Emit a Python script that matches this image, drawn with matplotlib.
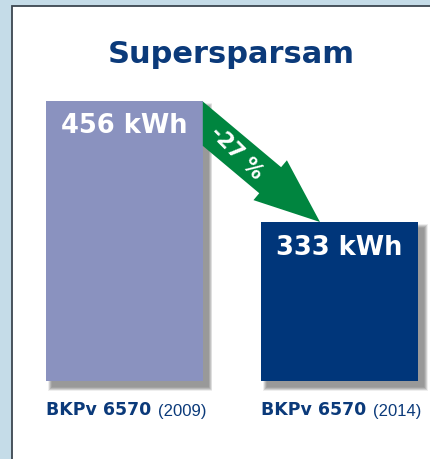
import numpy as np
import matplotlib
matplotlib.use("Agg")
import matplotlib.pyplot as plt
from matplotlib.patches import Rectangle, Polygon
from matplotlib.transforms import IdentityTransform

# Daten
models = ["BKPv 6570", "BKPv 6570"]
years = ["(2009)", "(2014)"]
consumption = [456, 333]  # kWh
value_labels = ["456 kWh", "333 kWh"]
change_label = "-27 %"
title = "Supersparsam"

# Farben
bg_blue = "#c5dce8"
bar_colors = ["#8a92bf", "#00367a"]
navy = "#0b3a7a"
green = "#00853f"

W, H, DPI = 430, 460, 100
fig = plt.figure(figsize=(W / DPI, H / DPI), dpi=DPI, facecolor=bg_blue)

# weisses Panel mit dunklem Rand oben/links
panel = Rectangle((11.5 / W, -0.05), 1.0, 1 - 6.5 / H + 0.05, transform=fig.transFigure,
                  facecolor="white", edgecolor="#3c4650", lw=1.3, zorder=-5)
fig.patches.append(panel)

# Achse so platziert, dass die Balken im Bild passen
ax = fig.add_axes([45.5 / W, 78 / H, 372.5 / W, 280.5 / H])
ax.set_zorder(2)
ax.set_facecolor("none")
base = 172
width = 0.731
x = np.arange(len(consumption))
ax.set_xlim(-width / 2, len(x) - 1 + width / 2)
ax.set_ylim(base, max(consumption))
ax.axis("off")

heights = np.array(consumption) - base
bars = ax.bar(x, heights, bottom=base, width=width, color=bar_colors, zorder=3, clip_on=False)

# weiche Schatten rechts unten
for b in bars:
    (x0, y0), (x1, y1) = ax.transData.transform([(b.get_x(), base),
                                                   (b.get_x() + b.get_width(), base + b.get_height())])
    for k in range(8):
        ax.add_patch(Rectangle((x0 + 6 - k * 0.5, y0 - 6 - k * 0.5), (x1 - x0) + k * 1.0, (y1 - y0) + k * 1.0,
                               transform=IdentityTransform(), facecolor="#444444", alpha=0.09,
                               edgecolor="none", zorder=1, clip_on=False))

# Werte in den Balken
for xi, v, lab in zip(x, consumption, value_labels):
    ax.annotate(lab, xy=(xi, v), xytext=(0, -18), textcoords="offset points",
                ha="center", va="center", color="white", fontsize=18.5, fontweight="bold",
                zorder=5, annotation_clip=False)

# Pfeil (Displaykoordinaten)
start_x = ax.transData.transform((width / 2, consumption[0]))[0]
tip = ax.transData.transform((0.91, consumption[1]))
ang = np.deg2rad(40)
u = np.array([np.cos(ang), -np.sin(ang)])
nrm = np.array([np.sin(ang), np.cos(ang)])
head_len, head_w, shaft_w = 65, 26, 17
B = tip - head_len * u


def back_to_start(p):
    t = (p[0] - start_x) / u[0]
    return p - t * u


s_top = B + shaft_w * nrm
s_bot = B - shaft_w * nrm
pts = [back_to_start(s_top), s_top, B + head_w * nrm, tip, B - head_w * nrm, s_bot, back_to_start(s_bot)]
ax.add_patch(Polygon(pts, closed=True, transform=IdentityTransform(), facecolor=green,
                     edgecolor="none", zorder=4, clip_on=False))

c = B - ((B[0] - (start_x + 34)) / u[0]) * u
ax.text(c[0], c[1], change_label, transform=IdentityTransform(), rotation=-45, ha="center",
        va="center", rotation_mode="anchor", color="white", fontsize=15, fontweight="bold",
        zorder=6, clip_on=False)

# Titel
fig.text(231.5 / W, 1 - 63 / H, title, ha="center", va="baseline", color=navy,
         fontsize=22, fontweight="bold")

# Beschriftung unter den Balken
for xi, m, yr in zip(x, models, years):
    t = ax.annotate(m, xy=(xi - width / 2, base), xytext=(0, -24), textcoords="offset points",
                    ha="left", va="baseline", color=navy, fontsize=12.5, fontweight="bold",
                    annotation_clip=False)
    ax.annotate(yr, xy=(1, 0), xycoords=t, xytext=(5, 0), textcoords="offset points",
                ha="left", va="bottom", color=navy, fontsize=12, family="Liberation Sans")

fig.savefig("out.png", dpi=DPI, facecolor=bg_blue)
